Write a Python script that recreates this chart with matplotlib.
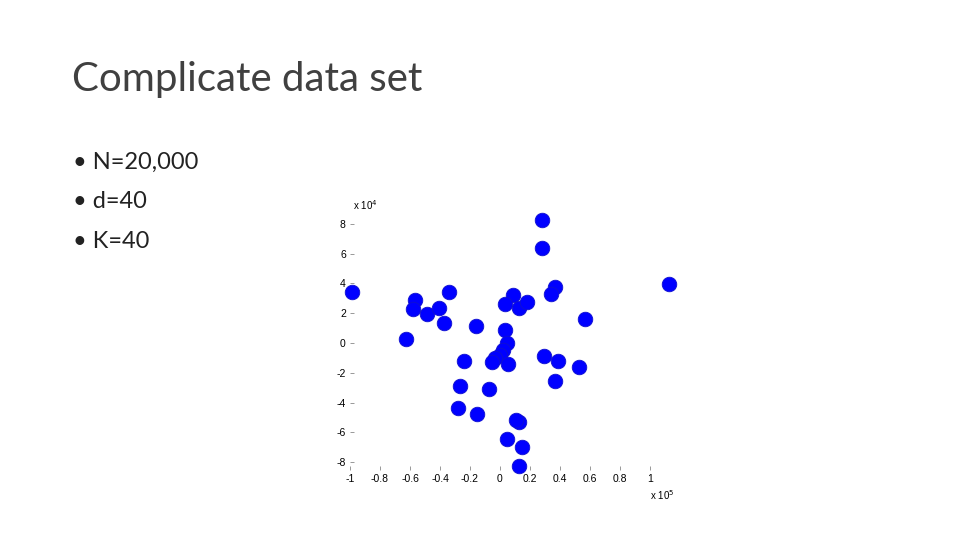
import numpy as np
import matplotlib
matplotlib.use("Agg")
import matplotlib.pyplot as plt

plt.rcParams['axes.unicode_minus'] = False

title = "Complicate data set"
bullets = ["N=20,000", "d=40", "K=40"]

# cluster centres (x in 1e5, y in 1e4)
cx = [0.28, 0.28, 1.13, -0.99, -0.34, -0.57, -0.58, -0.49, -0.41, -0.37,
      -0.63, -0.16, 0.09, 0.035, 0.126, 0.18, 0.37, 0.34, 0.57, 0.035,
      0.05, 0.02, 0.0, -0.03, -0.05, 0.052, 0.295, 0.389, 0.528, 0.369,
      -0.237, -0.264, -0.07, -0.282, -0.15, 0.13, 0.046, 0.146, 0.126, 0.11]
cy = [8.24, 6.39, 3.93, 3.43, 3.43, 2.87, 2.25, 1.94, 2.32, 1.35,
      0.26, 1.13, 3.25, 2.65, 2.38, 2.76, 3.77, 3.32, 1.58, 0.86,
      0.0, -0.45, -0.8, -1.0, -1.3, -1.42, -0.86, -1.22, -1.6, -2.56,
      -1.2, -2.9, -3.12, -4.4, -4.8, -5.34, -6.47, -7.0, -8.27, -5.2]

xticks = [-1, -0.8, -0.6, -0.4, -0.2, 0, 0.2, 0.4, 0.6, 0.8, 1]
xticklabels = ["-1", "-0.8", "-0.6", "-0.4", "-0.2", "0", "0.2", "0.4", "0.6", "0.8", "1"]
yticks = [-8, -6, -4, -2, 0, 2, 4, 6, 8]

fig = plt.figure(figsize=(9.6, 5.4), dpi=100)

fig.text(72/960, 1 - 80/540, title, fontsize=29, family="Lato",
         va="center", ha="left", color="#404040")
for i, b in enumerate(bullets):
    yy = 1 - (162 + i*40)/540
    fig.text(73/960, yy, "\u2022 " + b, fontsize=17, family="Lato",
             va="center", ha="left", color="#222222")

ax = fig.add_axes([350/960, 1 - 469.5/540, 322.5/960, 260.5/540])
ax.scatter(cx, cy, s=110, c="#0000ff", edgecolors="#1010d0", linewidths=0.6,
           clip_on=False)
ax.set_xlim(-1, 1.15)
ax.set_ylim(-8.5, 9)
ax.set_xticks(xticks)
ax.set_xticklabels(xticklabels)
ax.set_yticks(yticks)
for s in ax.spines.values():
    s.set_visible(False)
ax.tick_params(direction="in", length=3, width=0.6, color="#888888",
               labelsize=7.5, labelcolor="black", pad=3)
for lab in ax.get_xticklabels() + ax.get_yticklabels():
    lab.set_family("Liberation Sans")

fig.text(353/960, 1 - 205/540, r"x 10$^4$", fontsize=7, family="Liberation Sans",
         ha="left", va="center")
fig.text(650/960, 1 - 495/540, r"x 10$^5$", fontsize=7, family="Liberation Sans",
         ha="left", va="center")

fig.savefig("out.png", dpi=100)
